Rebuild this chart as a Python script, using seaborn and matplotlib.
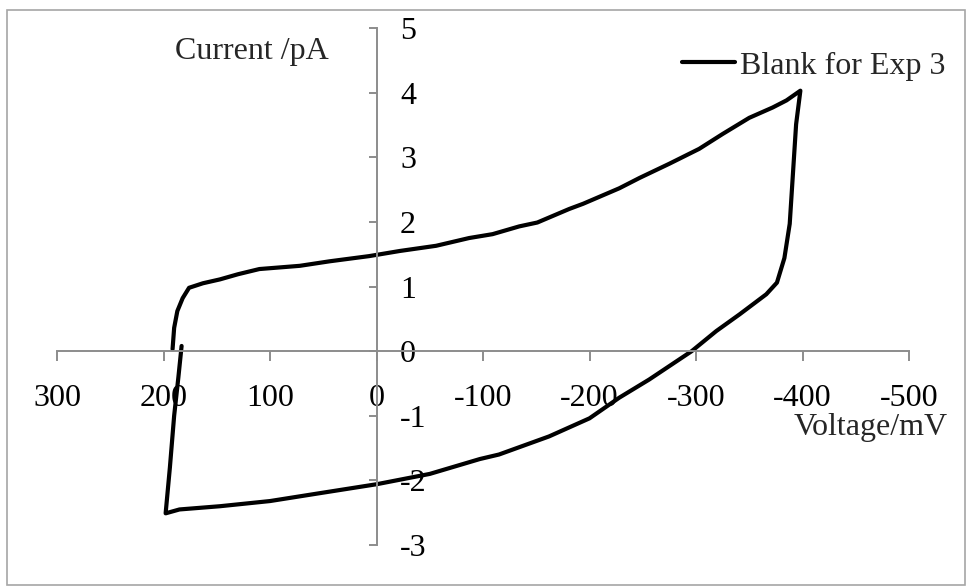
import matplotlib
matplotlib.use("Agg")
import matplotlib.pyplot as plt
import matplotlib.patches as mpatches
import seaborn as sns
import pandas as pd

# Data (path order of the cyclic voltammogram)
voltage_mV = [191.5, 190, 187, 182, 176, 163, 147, 130, 110, 72, 44, 7, -22, -56,
              -87, -109, -134, -151, -181, -194, -228, -247, -275, -303, -325,
              -350, -372, -385, -398,
              -394, -391, -388, -383, -376, -366, -341, -319, -296, -256, -228,
              -200, -162, -115, -97, -50, 0, 54, 100, 147, 185, 198,
              194, 190, 186, 183]
current_pA = [0.03, 0.36, 0.62, 0.82, 0.98, 1.05, 1.11, 1.19, 1.27, 1.32, 1.39, 1.47,
              1.55, 1.63, 1.75, 1.81, 1.93, 1.99, 2.20, 2.28, 2.52, 2.68, 2.90, 3.13,
              3.36, 3.61, 3.77, 3.88, 4.03,
              3.51, 2.74, 1.97, 1.44, 1.06, 0.88, 0.57, 0.31, 0.0, -0.44, -0.72,
              -1.04, -1.32, -1.60, -1.67, -1.90, -2.06, -2.20, -2.32, -2.40, -2.45,
              -2.51, -1.80, -1.00, -0.40, 0.08]
series_name = "Blank for Exp 3"
x_ticks = [300, 200, 100, 0, -100, -200, -300, -400, -500]
y_ticks = [-3, -2, -1, 0, 1, 2, 3, 4, 5]

df = pd.DataFrame({"V": voltage_mV, "I": current_pA})

sns.set_style("white")
plt.rcParams["font.family"] = ["Liberation Serif", "DejaVu Serif"]
FS = 23

W, H = 969, 586
fig = plt.figure(figsize=(W / 100, H / 100), dpi=100)
ax = fig.add_axes([57 / W, (H - 545) / H, (909 - 57) / W, (545 - 28) / H])

sns.lineplot(data=df, x="V", y="I", sort=False, estimator=None, color="black",
             linewidth=3.0, ax=ax, label=series_name)

ax.set_xlim(300, -500)
ax.set_ylim(-3, 5)
ax.set_xticks(x_ticks)
ax.set_yticks(y_ticks)
ax.set_xticklabels([str(v) for v in x_ticks])
ax.set_yticklabels([str(v) for v in y_ticks])

spine_col = "#8c8c8c"
ax.spines["top"].set_visible(False)
ax.spines["left"].set_visible(False)
ax.spines["bottom"].set_position(("data", 0))
ax.spines["right"].set_position(("data", 0))
for s in ("bottom", "right"):
    ax.spines[s].set_color(spine_col)
    ax.spines[s].set_linewidth(1.4)

ax.yaxis.tick_right()
ax.tick_params(axis="y", which="major", direction="in", length=6, width=1.4,
               color=spine_col, pad=17, labelsize=FS, labelcolor="black",
               left=False, right=True)
ax.tick_params(axis="x", which="major", direction="out", length=7, width=1.4,
               color=spine_col, pad=17, labelsize=FS, labelcolor="black",
               bottom=True, top=False)
for lab in ax.get_yticklabels():
    lab.set_ha("left")

ax.set_ylabel("Current /pA", rotation=0, fontsize=FS, ha="center", va="center")
ax.yaxis.set_label_coords((252 - 57) / 852, (545 - 52) / 517)
ax.set_xlabel("Voltage/mV", fontsize=FS, ha="center", va="center")
ax.xaxis.set_label_coords((871 - 57) / 852, (545 - 427) / 517)

ax.grid(False)
ax.set_facecolor("white")

leg = ax.legend(loc="center left", bbox_to_anchor=(682 / W, 1 - 66 / H),
                bbox_transform=fig.transFigure, frameon=False, fontsize=FS,
                handlelength=1.65, handletextpad=0.18, borderpad=0,
                borderaxespad=0)
for h in leg.get_lines():
    h.set_linewidth(3.0)

fig.add_artist(mpatches.Rectangle((7 / W, 1 / H), (965 - 7) / W, (585 - 10) / H,
                                  transform=fig.transFigure, fill=False,
                                  edgecolor="#a6a6a6", linewidth=1.2))

fig.savefig("out.png", dpi=100, facecolor="white")
